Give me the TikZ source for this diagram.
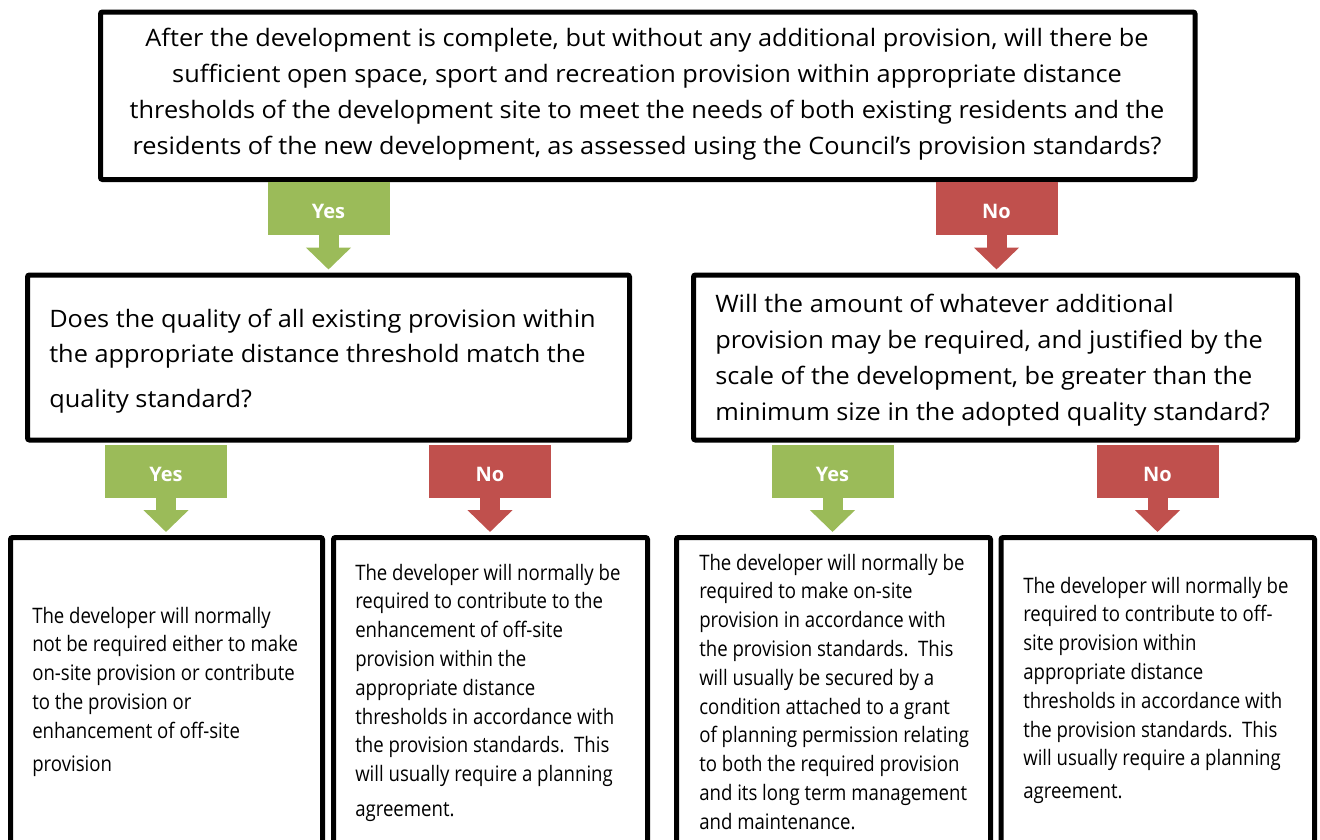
\documentclass[tikz,border=0pt]{standalone}
\usepackage{fontspec}
\setmainfont{Open Sans}
\newfontfamily\qfont[FakeStretch=1.055]{Open Sans}
\newfontfamily\bfont[FakeStretch=0.872]{Open Sans}
\usetikzlibrary{fit,arrows.meta}
\definecolor{yesgreen}{HTML}{9BBB59}
\definecolor{nored}{HTML}{C0504D}
% one centred / left-set line of a text block
\newcommand\ctrline[1]{\hbox to 0pt{\hss #1\hss}}
\newcommand\lftline[1]{\hbox{#1}}
\begin{document}
\begin{tikzpicture}[x=0.75pt,y=-0.75pt,
  box/.style={draw=black, line width=3.75pt, rounded corners=1.5pt, inner sep=0pt, fill=white},
  qtext/.style={inner sep=0pt, anchor=base west, font=\qfont\fontsize{18pt}{27pt}\selectfont},
  btext/.style={inner sep=0pt, anchor=base west, font=\bfont\fontsize{16pt}{21.6pt}\selectfont},
  answer/.style={inner sep=0pt, minimum width=91.5pt, minimum height=39.75pt, text=white,
    text height=15.5pt, text depth=0pt, font=\bfseries\fontsize{15pt}{18pt}\selectfont},
  yesans/.style={answer, fill=yesgreen},
  noans/.style={answer, fill=nored},
  blockarrow/.style={line width=15pt, shorten >=2.25pt,
    -{Triangle[width=33pt, length=16.5pt]}}
]
\useasboundingbox (0,0) rectangle (1320,839);

% boxes
\node[box, fit={(100.5,12) (1195,179.5)}] (q0) {};
\node[box, fit={(27.5,275) (629.5,440)}] (q1) {};
\node[box, fit={(693.5,275) (1297.5,440)}] (q2) {};
\node[box, fit={(10.5,537.5) (322.5,880)}] (r1) {};
\node[box, fit={(333.5,537.5) (647.5,880)}] (r2) {};
\node[box, fit={(676.5,537.5) (990.5,880)}] (r3) {};
\node[box, fit={(1001,537.5) (1314.5,880)}] (r4) {};

% texts
\node[qtext, anchor=base] (t0) at (647,46) {\vtop{%
  \ctrline{After the development is complete, but without any additional provision, will there be}
  \ctrline{sufficient open space, sport and recreation provision within appropriate distance}
  \ctrline{thresholds of the development site to meet the needs of both existing residents and the}
  \ctrline{residents of the new development, as assessed using the Council’s provision standards?}}};

\node[qtext, font=\qfont\fontsize{18pt}{26.5pt}\selectfont] (t1) at (49,327) {\vtop{%
  \lftline{Does the quality of all existing provision within}
  \lftline{the appropriate distance threshold match the}
  \vskip7.5pt
  \lftline{quality standard?}}};

\node[qtext] (t2) at (715,312) {\vtop{%
  \lftline{Will the amount of whatever additional}
  \lftline{provision may be required, and justified by the}
  \lftline{scale of the development, be greater than the}
  \lftline{minimum size in the adopted quality standard?}}};

\node[btext] (s1) at (32,623) {\vtop{%
  \lftline{The developer will normally}
  \lftline{not be required either to make}
  \lftline{on-site provision or contribute}
  \lftline{to the provision or}
  \lftline{enhancement of off-site}
  \vskip3pt
  \lftline{provision}}};

\node[btext] (s2) at (355,580) {\vtop{%
  \lftline{The developer will normally be}
  \lftline{required to contribute to the}
  \lftline{enhancement of off-site}
  \lftline{provision within the}
  \lftline{appropriate distance}
  \lftline{thresholds in accordance with}
  \lftline{the provision standards.\ \ This}
  \lftline{will usually require a planning}
  \vskip4.5pt
  \lftline{agreement.}}};

\node[btext] (s3) at (699,570) {\vtop{%
  \lftline{The developer will normally be}
  \lftline{required to make on-site}
  \lftline{provision in accordance with}
  \lftline{the provision standards.\ \ This}
  \lftline{will usually be secured by a}
  \lftline{condition attached to a grant}
  \lftline{of planning permission relating}
  \lftline{to both the required provision}
  \lftline{and its long term management}
  \lftline{and maintenance.}}};

\node[btext] (s4) at (1023,593) {\vtop{%
  \lftline{The developer will normally be}
  \lftline{required to contribute to off-}
  \lftline{site provision within}
  \lftline{appropriate distance}
  \lftline{thresholds in accordance with}
  \lftline{the provision standards.\ \ This}
  \lftline{will usually require a planning}
  \vskip3pt
  \lftline{agreement.}}};

% answer labels
\node[yesans] (a0y) at (328.5,208.5) {Yes};
\node[noans]  (a0n) at (996.5,208.5) {No};
\node[yesans] (a1y) at (166,471) {Yes};
\node[noans]  (a1n) at (490,471) {No};
\node[yesans] (a2y) at (832.5,471) {Yes};
\node[noans]  (a2n) at (1157.5,471) {No};

% block arrows
\draw[blockarrow, yesgreen] (a0y.south) -- (a0y.south |- q1.north);
\draw[blockarrow, nored]    (a0n.south) -- (a0n.south |- q2.north);
\draw[blockarrow, yesgreen] (a1y.south) -- (a1y.south |- r1.north);
\draw[blockarrow, nored]    (a1n.south) -- (a1n.south |- r2.north);
\draw[blockarrow, yesgreen] (a2y.south) -- (a2y.south |- r3.north);
\draw[blockarrow, nored]    (a2n.south) -- (a2n.south |- r4.north);
\end{tikzpicture}
\end{document}
